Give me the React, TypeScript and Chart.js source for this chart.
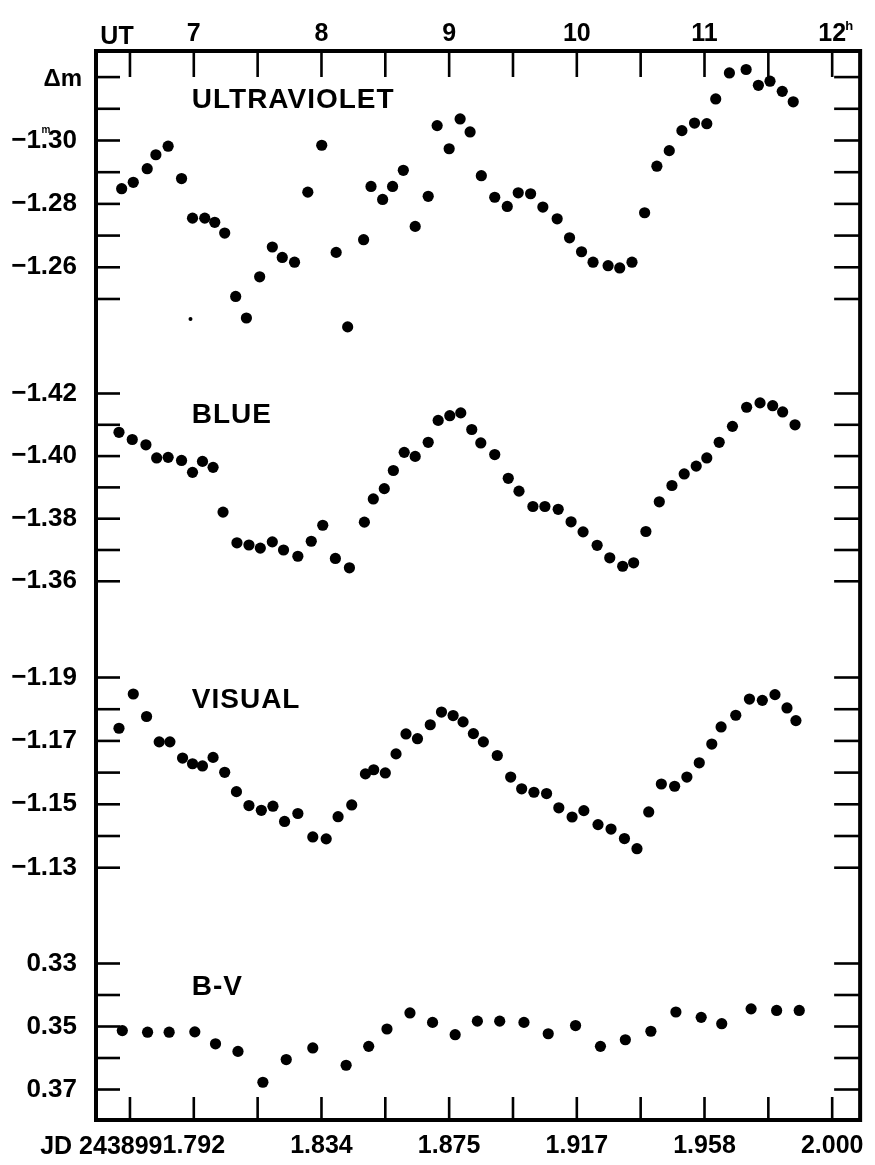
import React, { useEffect, useRef } from "react";
import { Chart, registerables } from "chart.js";

Chart.register(...registerables);

// ---------- data (UT hours, magnitudes) ----------
const uvTime = [6.435, 6.526, 6.635, 6.703, 6.799, 6.904, 6.99, 7.086, 7.164, 7.242, 7.328, 7.412, 7.516, 7.615, 7.693, 7.789, 7.893, 8.002, 8.115, 8.205, 8.33, 8.388, 8.479, 8.557, 8.641, 8.734, 8.836, 8.906, 9.0, 9.086, 9.164, 9.252, 9.357, 9.455, 9.541, 9.638, 9.734, 9.846, 9.943, 10.037, 10.127, 10.245, 10.336, 10.432, 10.531, 10.627, 10.724, 10.823, 10.922, 11.018, 11.088, 11.195, 11.326, 11.422, 11.513, 11.609, 11.695];
const uvMag = [-1.2848, -1.2868, -1.2911, -1.2955, -1.2982, -1.288, -1.2755, -1.2755, -1.2742, -1.2708, -1.2508, -1.244, -1.257, -1.2664, -1.2631, -1.2616, -1.2837, -1.2985, -1.2647, -1.2412, -1.2687, -1.2855, -1.2814, -1.2855, -1.2906, -1.2729, -1.2824, -1.3047, -1.2974, -1.3068, -1.3027, -1.2889, -1.2821, -1.2792, -1.2835, -1.2832, -1.279, -1.2753, -1.2693, -1.2649, -1.2616, -1.2605, -1.2598, -1.2616, -1.2772, -1.2919, -1.2968, -1.3031, -1.3055, -1.3053, -1.3131, -1.3213, -1.3224, -1.3174, -1.3187, -1.3155, -1.3122];
const uvSpeckTime = [6.974];
const uvSpeckMag = [-1.2437];

const blueTime = [6.414, 6.518, 6.625, 6.709, 6.799, 6.904, 6.99, 7.068, 7.151, 7.229, 7.338, 7.432, 7.521, 7.615, 7.703, 7.815, 7.92, 8.01, 8.109, 8.219, 8.336, 8.406, 8.492, 8.563, 8.648, 8.734, 8.836, 8.914, 9.005, 9.091, 9.177, 9.248, 9.357, 9.463, 9.547, 9.656, 9.75, 9.854, 9.955, 10.049, 10.159, 10.258, 10.359, 10.445, 10.541, 10.646, 10.745, 10.841, 10.935, 11.018, 11.115, 11.219, 11.33, 11.435, 11.534, 11.612, 11.709];
const blueMag = [-1.4076, -1.4053, -1.4036, -1.3994, -1.3996, -1.3986, -1.3948, -1.3983, -1.3964, -1.3821, -1.3723, -1.3716, -1.3706, -1.3726, -1.37, -1.368, -1.3728, -1.3779, -1.3673, -1.3643, -1.3789, -1.3863, -1.3896, -1.3954, -1.4012, -1.3999, -1.4044, -1.4114, -1.4129, -1.4138, -1.4085, -1.4042, -1.4005, -1.3929, -1.3888, -1.3839, -1.3839, -1.383, -1.379, -1.3758, -1.3715, -1.3675, -1.3648, -1.3659, -1.3759, -1.3854, -1.3906, -1.3943, -1.3968, -1.3994, -1.4044, -1.4095, -1.4156, -1.417, -1.4161, -1.4141, -1.41];

const visTime = [6.414, 6.526, 6.63, 6.729, 6.813, 6.912, 6.99, 7.068, 7.151, 7.242, 7.334, 7.432, 7.529, 7.62, 7.711, 7.815, 7.932, 8.037, 8.13, 8.237, 8.344, 8.409, 8.5, 8.584, 8.662, 8.752, 8.852, 8.94, 9.031, 9.109, 9.19, 9.268, 9.377, 9.482, 9.568, 9.664, 9.763, 9.859, 9.963, 10.055, 10.166, 10.268, 10.373, 10.471, 10.563, 10.662, 10.766, 10.862, 10.959, 11.057, 11.13, 11.245, 11.352, 11.453, 11.552, 11.646, 11.716];
const visMag = [-1.174, -1.1848, -1.1777, -1.1697, -1.1697, -1.1646, -1.1628, -1.1621, -1.1648, -1.1601, -1.154, -1.1496, -1.1481, -1.1494, -1.1446, -1.1471, -1.1397, -1.1391, -1.1461, -1.1498, -1.1596, -1.1609, -1.1599, -1.1659, -1.1722, -1.1707, -1.1751, -1.1791, -1.178, -1.176, -1.1723, -1.1697, -1.1654, -1.1586, -1.1549, -1.1538, -1.1534, -1.1489, -1.146, -1.148, -1.1436, -1.1422, -1.1392, -1.136, -1.1476, -1.1564, -1.1557, -1.1586, -1.1631, -1.169, -1.1744, -1.1781, -1.1832, -1.1828, -1.1846, -1.1804, -1.1764];

const bvTime = [6.44, 6.638, 6.807, 7.008, 7.17, 7.346, 7.541, 7.724, 7.932, 8.193, 8.37, 8.513, 8.693, 8.87, 9.047, 9.221, 9.396, 9.586, 9.776, 9.99, 10.185, 10.38, 10.58, 10.776, 10.974, 11.135, 11.365, 11.565, 11.742];
const bvColor = [0.3513, 0.3518, 0.3518, 0.3517, 0.3555, 0.3579, 0.3677, 0.3605, 0.3568, 0.3623, 0.3563, 0.3508, 0.3457, 0.3487, 0.3526, 0.3483, 0.3483, 0.3487, 0.3523, 0.3497, 0.3563, 0.3542, 0.3515, 0.3454, 0.3471, 0.3491, 0.3444, 0.3449, 0.3449];

// ---------- ticks and labels ----------
const xTickHours = [6.5, 7, 7.5, 8, 8.5, 9, 9.5, 10, 10.5, 11, 11.5, 12];
const utTickLabels = ["", "7", "", "8", "", "9", "", "10", "", "11", "", "12"];
const jdTickLabels = ["", "1.792", "", "1.834", "", "1.875", "", "1.917", "", "1.958", "", "2.000"];
const jdPrefix = "JD 243899";

const uvTicks = [-1.32, -1.31, -1.3, -1.29, -1.28, -1.27, -1.26, -1.25];
const uvTickLabels = ["", "", "\u22121.30", "", "\u22121.28", "", "\u22121.26", ""];
const blueTicks = [-1.42, -1.41, -1.4, -1.39, -1.38, -1.37, -1.36];
const blueTickLabels = ["\u22121.42", "", "\u22121.40", "", "\u22121.38", "", "\u22121.36"];
const visTicks = [-1.19, -1.18, -1.17, -1.16, -1.15, -1.14, -1.13];
const visTickLabels = ["\u22121.19", "", "\u22121.17", "", "\u22121.15", "", "\u22121.13"];
const bvTicks = [0.33, 0.34, 0.35, 0.36, 0.37];
const bvTickLabels = ["0.33", "", "0.35", "", "0.37"];

const panelTitles = ["ULTRAVIOLET", "BLUE", "VISUAL", "B-V"];

const FONT = '"Liberation Sans", Arial, sans-serif';

function pts(xs: number[], ys: number[]) {
  return xs.map((x, i) => ({ x, y: ys[i] }));
}

const decor = {
  id: "decor",
  afterDraw(chart: any) {
    const ctx: CanvasRenderingContext2D = chart.ctx;
    const a = chart.chartArea;
    const line = (x1: number, y1: number, x2: number, y2: number) => {
      ctx.beginPath();
      ctx.moveTo(x1, y1);
      ctx.lineTo(x2, y2);
      ctx.stroke();
    };
    ctx.save();
    ctx.strokeStyle = "#000";
    ctx.fillStyle = "#000";
    ctx.lineWidth = 2.6;
    ctx.lineCap = "butt";
    ["yUV", "yBlue", "yVis", "yBV"].forEach((id) => {
      const s = chart.scales[id];
      s.ticks.forEach((t: any) => {
        const y = s.getPixelForValue(t.value);
        line(a.left, y, a.left + 24, y);
        line(a.right - 26, y, a.right, y);
      });
    });
    const xt = chart.scales.xTop;
    xt.ticks.forEach((t: any) => {
      const x = xt.getPixelForValue(t.value);
      line(x, a.top, x, a.top + 26);
    });
    const xb = chart.scales.x;
    xb.ticks.forEach((t: any) => {
      const x = xb.getPixelForValue(t.value);
      line(x, a.bottom - 23, x, a.bottom);
    });
    ctx.lineWidth = 4;
    ctx.strokeRect(a.left, a.top, a.right - a.left, a.bottom - a.top);

    // panel titles
    const tx = xb.getPixelForValue(7) - 2;
    const titleY = [108, 423, 708, 995];
    ctx.font = `bold 28px ${FONT}`;
    (ctx as any).letterSpacing = "1px";
    ctx.textAlign = "left";
    ctx.textBaseline = "alphabetic";
    panelTitles.forEach((t, i) => ctx.fillText(t, tx, titleY[i]));
    (ctx as any).letterSpacing = "0px";

    // UT / h
    ctx.font = `bold 25px ${FONT}`;
    ctx.textAlign = "center";
    ctx.fillText("UT", 117, 44);
    ctx.font = `bold 13px ${FONT}`;
    ctx.textAlign = "left";
    ctx.fillText("h", xt.getPixelForValue(12) + 13, 30);

    // JD prefix
    ctx.font = `bold 25px ${FONT}`;
    const w = ctx.measureText("1.792").width;
    ctx.textAlign = "right";
    ctx.fillText(jdPrefix, xb.getPixelForValue(7) - w / 2, 1154);

    // Δm and small m
    ctx.font = `bold 24px ${FONT}`;
    ctx.textAlign = "right";
    ctx.fillText("\u0394m", 82, 86);
    ctx.font = `bold 10px ${FONT}`;
    ctx.textAlign = "center";
    ctx.fillText("m", 46, 133);
    ctx.restore();
  },
};

export default function App() {
  const ref = useRef<HTMLCanvasElement | null>(null);
  useEffect(() => {
    if (!ref.current) return;
    const yCommon = (ticks: number[], labels: string[], weight: number, min: number, max: number) => ({
      type: "linear",
      position: "left",
      stack: "panels",
      stackWeight: weight,
      reverse: true,
      min,
      max,
      grid: { display: false, drawTicks: false, tickLength: 0 },
      border: { display: false },
      afterBuildTicks: (s: any) => {
        s.ticks = ticks.map((v) => ({ value: v }));
      },
      afterFit: (s: any) => {
        s.width = 96;
      },
      ticks: {
        autoSkip: false,
        padding: 19,
        color: "#000",
        font: { size: 26, weight: "bold", family: FONT },
        callback: (_v: any, i: number) => labels[i],
      },
    });
    const chart = new Chart(ref.current, {
      type: "scatter",
      data: {
        datasets: [
          { label: "ULTRAVIOLET", data: pts(uvTime, uvMag), yAxisID: "yUV", xAxisID: "x" },
          { label: "speck", data: pts(uvSpeckTime, uvSpeckMag), yAxisID: "yUV", xAxisID: "x", pointRadius: 2 },
          { label: "BLUE", data: pts(blueTime, blueMag), yAxisID: "yBlue", xAxisID: "x" },
          { label: "VISUAL", data: pts(visTime, visMag), yAxisID: "yVis", xAxisID: "x" },
          { label: "B-V", data: pts(bvTime, bvColor), yAxisID: "yBV", xAxisID: "x" },
        ].map((d: any) => ({
          pointRadius: 5.6,
          pointBackgroundColor: "#000",
          pointBorderWidth: 0,
          pointBorderColor: "#000",
          showLine: false,
          clip: false,
          ...d,
        })),
      },
      options: {
        animation: false,
        responsive: false,
        devicePixelRatio: 1,
        layout: { padding: { left: 0, top: 0, right: 13, bottom: 0 } },
        plugins: { legend: { display: false }, tooltip: { enabled: false } },
        scales: {
          x: {
            type: "linear",
            position: "bottom",
            min: 6.234,
            max: 12.219,
            grid: { display: false, drawTicks: false, tickLength: 0 },
            border: { display: false },
            afterBuildTicks: (s: any) => {
              s.ticks = xTickHours.map((v) => ({ value: v }));
            },
            afterFit: (s: any) => {
              s.height = 45;
            },
            ticks: {
              autoSkip: false,
              maxRotation: 0,
              padding: 11,
              color: "#000",
              font: { size: 25, weight: "bold", family: FONT },
              callback: (_v: any, i: number) => jdTickLabels[i],
            },
          },
          xTop: {
            type: "linear",
            axis: "x",
            position: "top",
            min: 6.234,
            max: 12.219,
            grid: { display: false, drawTicks: false, tickLength: 0 },
            border: { display: false },
            afterBuildTicks: (s: any) => {
              s.ticks = xTickHours.map((v) => ({ value: v }));
            },
            afterFit: (s: any) => {
              s.height = 51;
            },
            ticks: {
              autoSkip: false,
              maxRotation: 0,
              padding: 2,
              color: "#000",
              font: { size: 25, weight: "bold", family: FONT },
              callback: (_v: any, i: number) => utTickLabels[i],
            },
          },
          yBV: yCommon(bvTicks, bvTickLabels, 203, 0.31524, 0.37968),
          yVis: yCommon(visTicks, visTickLabels, 280, -1.20278, -1.11445),
          yBlue: yCommon(blueTicks, blueTickLabels, 280, -1.43166, -1.3422),
          yUV: yCommon(uvTicks, uvTickLabels, 306, -1.32823, -1.2317),
        } as any,
      },
      plugins: [decor],
    } as any);
    return () => chart.destroy();
  }, []);
  return (
    <div style={{ position: "absolute", left: 0, top: 0, width: 875, height: 1165, background: "#fff" }}>
      <canvas ref={ref} width={875} height={1165} />
    </div>
  );
}
